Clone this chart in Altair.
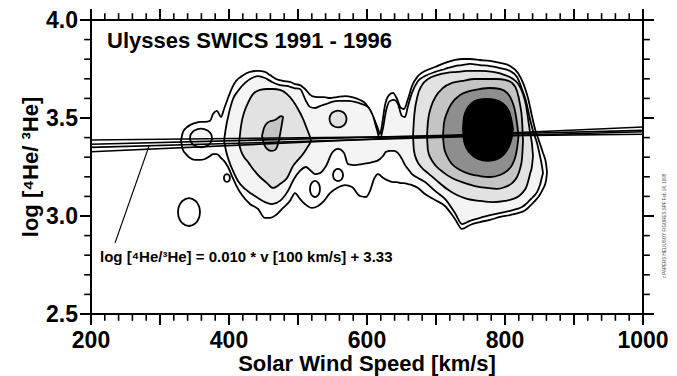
import altair as alt
import pandas as pd

FONT = "Liberation Sans"

# ---------------- axes ----------------
X_DOMAIN = [200, 1000]
Y_DOMAIN = [2.5, 4.0]
X_LABELS = [200, 400, 600, 800, 1000]
X_MAJOR = list(range(200, 1001, 100))
X_MINOR = [v for v in range(200, 1001, 20) if v % 100 != 0]
Y_MAJOR = [2.5, 3.0, 3.5, 4.0]
Y_MINOR = [2.6, 2.7, 2.8, 2.9, 3.1, 3.2, 3.3, 3.4, 3.6, 3.7, 3.8, 3.9]
X_TITLE = "Solar Wind Speed [km/s]"
Y_TITLE = "log [\u2074He/ \u00b3He]"

PLOT_W, PLOT_H = 552, 294
MAJOR_LEN, MINOR_LEN = 10, 6     # tick lengths in pixels

# ---------------- contour levels (fill inside each level) ----------------
LEVEL_FILLS = ["#ffffff", "#f4f4f4", "#e2e2e2", "#c4c4c4", "#8e8e8e", "#000000"]

# Each contour: speed samples, lower and upper log(4He/3He) bound
L1_MAIN_X = [330.4, 333.3, 337.7, 343.5, 350.7, 358.0, 365.2, 372.5, 376.8, 382.6, 388.4, 392.8, 398.6, 404.3,
             410.2, 418.8, 430.4, 442.0, 452.2, 459.4, 468.1, 478.3, 488.4, 495.7, 502.9, 510.1, 520.3, 529.0,
             537.7, 546.4, 556.5, 568.1, 578.3, 589.9, 598.6, 604.4, 610.2, 616.0, 618.8, 621.7, 626.1, 631.9,
             637.7, 643.5, 649.3, 653.6, 659.4, 665.2, 673.9, 684.1, 698.6, 713.0, 727.5, 737.7, 749.3, 763.8,
             778.3, 792.8, 807.2, 818.8, 827.5, 833.3, 839.1, 843.5, 849.3, 855.1, 859.4, 860.9]
L1_MAIN_HI = [3.383, 3.429, 3.449, 3.464, 3.474, 3.480, 3.480, 3.485, 3.520, 3.536, 3.505, 3.546, 3.602, 3.653,
              3.689, 3.714, 3.735, 3.740, 3.735, 3.719, 3.699, 3.689, 3.684, 3.673, 3.668, 3.648, 3.612, 3.607,
              3.607, 3.602, 3.607, 3.612, 3.607, 3.592, 3.571, 3.536, 3.495, 3.444, 3.418, 3.464, 3.566, 3.617,
              3.628, 3.597, 3.551, 3.546, 3.597, 3.663, 3.714, 3.740, 3.760, 3.781, 3.796, 3.801, 3.801, 3.796,
              3.791, 3.781, 3.765, 3.730, 3.668, 3.602, 3.510, 3.444, 3.383, 3.321, 3.270, 3.224]
L1_MAIN_LO = [3.383, 3.337, 3.316, 3.296, 3.286, 3.286, 3.291, 3.306, 3.316, 3.316, 3.296, 3.281, 3.250, 3.204,
              3.158, 3.107, 3.061, 3.036, 2.990, 2.990, 3.005, 3.041, 3.077, 3.117, 3.087, 3.061, 3.041, 3.051,
              3.077, 3.117, 3.143, 3.158, 3.148, 3.102, 3.097, 3.128, 3.189, 3.214, 3.209, 3.199, 3.189, 3.179,
              3.173, 3.173, 3.168, 3.168, 3.163, 3.158, 3.143, 3.112, 3.082, 3.051, 2.985, 2.934, 2.954, 2.969,
              2.980, 2.995, 3.005, 3.015, 3.026, 3.041, 3.061, 3.077, 3.102, 3.138, 3.179, 3.224]

L2_MAIN_X = [392.8, 395.7, 400.0, 405.8, 413.0, 423.2, 433.3, 442.0, 452.2, 462.3, 473.9, 485.5, 494.2, 502.9,
             511.6, 517.4, 524.6, 531.9, 540.6, 549.3, 558.0, 566.7, 572.5, 582.6, 592.8, 601.5, 608.7, 614.5,
             618.8, 623.2, 627.5, 633.3, 639.1, 644.9, 650.7, 655.1, 659.4, 665.2, 673.9, 684.1, 698.6, 713.0,
             727.5, 737.7, 749.3, 763.8, 778.3, 792.8, 807.2, 817.4, 824.6, 830.4, 836.2, 840.6, 846.4, 850.7,
             853.6, 855.1]
L2_MAIN_HI = [3.383, 3.454, 3.526, 3.597, 3.638, 3.679, 3.704, 3.714, 3.704, 3.684, 3.668, 3.663, 3.653, 3.648,
              3.587, 3.556, 3.551, 3.561, 3.571, 3.582, 3.587, 3.587, 3.587, 3.582, 3.571, 3.556, 3.510, 3.439,
              3.393, 3.449, 3.536, 3.587, 3.592, 3.571, 3.510, 3.505, 3.561, 3.628, 3.689, 3.714, 3.735, 3.750,
              3.765, 3.770, 3.776, 3.770, 3.765, 3.755, 3.740, 3.709, 3.648, 3.587, 3.495, 3.434, 3.372, 3.306,
              3.255, 3.219]
L2_MAIN_LO = [3.383, 3.332, 3.281, 3.230, 3.179, 3.138, 3.112, 3.092, 3.071, 3.061, 3.077, 3.128, 3.189, 3.230,
              3.250, 3.235, 3.214, 3.219, 3.255, 3.321, 3.342, 3.321, 3.265, 3.260, 3.265, 3.270, 3.276, 3.281,
              3.291, 3.306, 3.327, 3.332, 3.332, 3.321, 3.291, 3.260, 3.240, 3.214, 3.194, 3.173, 3.128, 3.087,
              3.015, 2.959, 2.975, 2.990, 3.005, 3.015, 3.026, 3.036, 3.046, 3.061, 3.082, 3.097, 3.122, 3.158,
              3.199, 3.219]

L3_MID_X = [414.5, 417.4, 421.7, 427.5, 434.8, 444.9, 455.1, 463.8, 473.9, 484.1, 492.8, 500.0, 507.3, 513.0,
            517.4, 518.8]
L3_MID_HI = [3.367, 3.459, 3.526, 3.577, 3.622, 3.643, 3.648, 3.648, 3.643, 3.622, 3.587, 3.546, 3.495, 3.444,
             3.403, 3.383]
L3_MID_LO = [3.367, 3.332, 3.301, 3.276, 3.240, 3.199, 3.168, 3.143, 3.163, 3.194, 3.255, 3.286, 3.316, 3.347,
             3.372, 3.383]

L4_MID_X = [447.8, 450.7, 455.1, 460.9, 466.7, 471.0, 475.4, 478.3]
L4_MID_HI = [3.408, 3.449, 3.474, 3.485, 3.490, 3.500, 3.510, 3.505]
L4_MID_LO = [3.408, 3.367, 3.342, 3.332, 3.337, 3.367, 3.444, 3.505]

L3_FAST_X = [666.7, 668.1, 672.5, 679.7, 688.4, 701.5, 715.9, 730.4, 744.9, 763.8, 782.6, 800.0, 811.6, 820.3,
             826.1, 830.4, 833.3, 836.2, 839.1, 840.6]
L3_FAST_HI = [3.408, 3.495, 3.602, 3.668, 3.699, 3.719, 3.730, 3.735, 3.740, 3.740, 3.735, 3.719, 3.699, 3.668,
              3.622, 3.566, 3.500, 3.429, 3.367, 3.306]
L3_FAST_LO = [3.408, 3.332, 3.281, 3.245, 3.219, 3.179, 3.138, 3.107, 3.087, 3.077, 3.071, 3.077, 3.087, 3.102,
              3.122, 3.143, 3.173, 3.214, 3.255, 3.306]

L4_FAST_X = [687.0, 688.4, 692.8, 700.0, 710.1, 723.2, 737.7, 756.5, 773.9, 788.4, 800.0, 810.2, 817.4, 821.7,
             824.6, 826.1]
L4_FAST_HI = [3.408, 3.485, 3.556, 3.612, 3.653, 3.679, 3.689, 3.699, 3.699, 3.699, 3.694, 3.679, 3.638, 3.571,
              3.495, 3.383]
L4_FAST_LO = [3.408, 3.332, 3.291, 3.255, 3.224, 3.194, 3.173, 3.153, 3.143, 3.138, 3.148, 3.168, 3.199, 3.240,
              3.291, 3.383]

L5_FAST_X = [710.1, 711.6, 715.9, 723.2, 734.8, 749.3, 763.8, 778.3, 792.8, 803.0, 810.2, 814.5, 817.4, 819.6]
L5_FAST_HI = [3.408, 3.474, 3.526, 3.577, 3.617, 3.638, 3.648, 3.653, 3.648, 3.628, 3.587, 3.536, 3.474, 3.408]
L5_FAST_LO = [3.408, 3.352, 3.306, 3.265, 3.235, 3.214, 3.204, 3.199, 3.209, 3.230, 3.260, 3.296, 3.342, 3.408]

L6_FAST_X = [739.1, 740.6, 744.9, 752.2, 760.9, 773.9, 785.5, 795.7, 803.0, 807.2, 810.2, 811.6]
L6_FAST_HI = [3.444, 3.505, 3.546, 3.577, 3.592, 3.597, 3.592, 3.577, 3.551, 3.520, 3.474, 3.444]
L6_FAST_LO = [3.444, 3.383, 3.342, 3.311, 3.291, 3.281, 3.286, 3.306, 3.337, 3.367, 3.408, 3.444]

# small closed islands: level, centre speed, centre log ratio, half-width, half-height
ISLAND_LEVEL = [1, 1, 1, 1, 2, 3]
ISLAND_CX = [342.0, 397.0, 558.0, 524.6, 359.4, 558.0]
ISLAND_CY = [3.020, 3.194, 3.209, 3.138, 3.398, 3.495]
ISLAND_RX = [15.9, 4.3, 7.2, 7.2, 15.9, 12.3]
ISLAND_RY = [0.071, 0.020, 0.031, 0.041, 0.048, 0.043]
ISLAND_PROFILE_U = [-1, -0.97, -0.87, -0.6, 0, 0.6, 0.87, 0.97, 1]
ISLAND_PROFILE_H = [0, 0.24, 0.49, 0.8, 1, 0.8, 0.49, 0.24, 0]

# regression line and its uncertainty envelope (values at 200 and 1000 km/s)
REG_V = [200, 1000]
REG_START = [3.35, 3.388, 3.366, 3.328]
REG_END = [3.43, 3.417, 3.437, 3.454]

POINTER_X = [234.8, 284.1]
POINTER_Y = [2.862, 3.357]

# ---------------- build tables ----------------
rows = []
def add_shape(name, level, xs, lo, hi):
    for x, a, b in zip(xs, lo, hi):
        rows.append(dict(shape=name, level=level, x=x, lo=a, hi=b))

add_shape("L1 main", 1, L1_MAIN_X, L1_MAIN_LO, L1_MAIN_HI)
add_shape("L2 main", 2, L2_MAIN_X, L2_MAIN_LO, L2_MAIN_HI)
add_shape("L3 mid", 3, L3_MID_X, L3_MID_LO, L3_MID_HI)
add_shape("L4 mid", 4, L4_MID_X, L4_MID_LO, L4_MID_HI)
add_shape("L3 fast", 3, L3_FAST_X, L3_FAST_LO, L3_FAST_HI)
add_shape("L4 fast", 4, L4_FAST_X, L4_FAST_LO, L4_FAST_HI)
add_shape("L5 fast", 5, L5_FAST_X, L5_FAST_LO, L5_FAST_HI)
add_shape("L6 fast", 6, L6_FAST_X, L6_FAST_LO, L6_FAST_HI)
for i, (lv, cx, cy, rx, ry) in enumerate(zip(ISLAND_LEVEL, ISLAND_CX, ISLAND_CY, ISLAND_RX, ISLAND_RY)):
    add_shape(f"island {i}", lv, [cx + rx * u for u in ISLAND_PROFILE_U],
              [cy - ry * h for h in ISLAND_PROFILE_H], [cy + ry * h for h in ISLAND_PROFILE_H])
contours = pd.DataFrame(rows)

reg = pd.DataFrame([dict(line=i, v=v, y=y)
                    for i, (s, e) in enumerate(zip(REG_START, REG_END))
                    for v, y in zip(REG_V, [s, e])])

# frame + ticks table (tick lengths converted from pixels to data units)
px_x = (X_DOMAIN[1] - X_DOMAIN[0]) / PLOT_W
px_y = (Y_DOMAIN[1] - Y_DOMAIN[0]) / PLOT_H
tick_rows = [
    dict(x1=X_DOMAIN[0], x2=X_DOMAIN[1], y1=Y_DOMAIN[0], y2=Y_DOMAIN[0], w=2.0),
    dict(x1=X_DOMAIN[0], x2=X_DOMAIN[1], y1=Y_DOMAIN[1], y2=Y_DOMAIN[1], w=2.0),
    dict(x1=X_DOMAIN[0], x2=X_DOMAIN[0], y1=Y_DOMAIN[0], y2=Y_DOMAIN[1], w=2.0),
    dict(x1=X_DOMAIN[1], x2=X_DOMAIN[1], y1=Y_DOMAIN[0], y2=Y_DOMAIN[1], w=2.0),
]
for vals, ln, w in [(X_MAJOR, MAJOR_LEN, 2.0), (X_MINOR, MINOR_LEN, 1.6)]:
    for v in vals:
        tick_rows.append(dict(x1=v, x2=v, y1=Y_DOMAIN[0], y2=Y_DOMAIN[0] - ln * px_y, w=w))
        tick_rows.append(dict(x1=v, x2=v, y1=Y_DOMAIN[1], y2=Y_DOMAIN[1] + ln * px_y, w=w))
for vals, ln, w in [(Y_MAJOR, MAJOR_LEN, 2.0), (Y_MINOR, MINOR_LEN, 1.6)]:
    for v in vals:
        tick_rows.append(dict(x1=X_DOMAIN[0], x2=X_DOMAIN[0] - ln * px_x, y1=v, y2=v, w=w))
        tick_rows.append(dict(x1=X_DOMAIN[1], x2=X_DOMAIN[1] + ln * px_x, y1=v, y2=v, w=w))
ticks = pd.DataFrame(tick_rows)

XS = alt.Scale(domain=X_DOMAIN, nice=False, zero=False)
YS = alt.Scale(domain=Y_DOMAIN, nice=False, zero=False)

layers = []
for lvl in range(1, 7):
    d = contours[contours.level == lvl]
    layers.append(
        alt.Chart(d).mark_area(fill=LEVEL_FILLS[lvl - 1], stroke="black", strokeWidth=1.8,
                               interpolate="monotone", opacity=1, strokeJoin="round")
        .encode(x=alt.X("x:Q", scale=XS, axis=None),
                y=alt.Y("lo:Q", scale=YS, axis=None, stack=None),
                y2="hi:Q",
                detail="shape:N")
    )

layers.append(
    alt.Chart(reg).mark_line(color="black", strokeWidth=1.6)
    .encode(x=alt.X("v:Q", scale=XS, axis=None), y=alt.Y("y:Q", scale=YS, axis=None), detail="line:N")
)
layers.append(
    alt.Chart(pd.DataFrame({"x1": [POINTER_X[0]], "x2": [POINTER_X[1]], "y1": [POINTER_Y[0]], "y2": [POINTER_Y[1]]}))
    .mark_rule(color="black", strokeWidth=1.1)
    .encode(x=alt.X("x1:Q", scale=XS, axis=None), x2="x2:Q",
            y=alt.Y("y1:Q", scale=YS, axis=None), y2="y2:Q")
)
layers.append(
    alt.Chart(ticks).mark_rule(color="black", strokeCap="square")
    .encode(x=alt.X("x1:Q", scale=XS, axis=None), x2="x2:Q",
            y=alt.Y("y1:Q", scale=YS, axis=None), y2="y2:Q",
            strokeWidth=alt.StrokeWidth("w:Q", scale=None, legend=None))
)
layers.append(
    alt.Chart(pd.DataFrame({"x": [223.2], "y": [3.857], "t": ["Ulysses SWICS 1991 - 1996"]}))
    .mark_text(align="left", baseline="alphabetic", font=FONT, fontSize=22, fontWeight="bold", color="black")
    .encode(x=alt.X("x:Q", scale=XS, axis=None), y=alt.Y("y:Q", scale=YS, axis=None), text="t:N")
)
layers.append(
    alt.Chart(pd.DataFrame({"x": [213.0], "y": [2.765], "t": ["log [\u2074He/\u00b3He] = 0.010 * v [100 km/s] + 3.33"]}))
    .mark_text(align="left", baseline="alphabetic", font=FONT, fontSize=15, fontWeight="bold", color="black")
    .encode(x=alt.X("x:Q", scale=XS, axis=None), y=alt.Y("y:Q", scale=YS, axis=None), text="t:N")
)
layers.append(
    alt.Chart(pd.DataFrame({"t": ["c PAPERS HELIUSOY FIGURES.SPF Feb 14, 1998"]}))
    .mark_text(angle=270, align="center", baseline="middle", font=FONT, fontSize=4.5, color="#555555")
    .encode(x=alt.value(574), y=alt.value(206), text="t:N")
)

# ---------------- tick labels and axis titles (as text marks) ----------------
x_lab = pd.DataFrame({"v": X_LABELS, "t": [str(v) for v in X_LABELS]})
y_lab = pd.DataFrame({"v": Y_MAJOR, "t": [f"{v:.1f}" for v in Y_MAJOR]})
layers += [
    alt.Chart(x_lab).mark_text(align="center", baseline="alphabetic", font=FONT, fontSize=23,
                               fontWeight="bold", color="black")
    .encode(x=alt.X("v:Q", scale=XS, axis=None), y=alt.value(328), text="t:N"),
    alt.Chart(y_lab).mark_text(align="right", baseline="alphabetic", dy=8, font=FONT, fontSize=23,
                               fontWeight="bold", color="black")
    .encode(y=alt.Y("v:Q", scale=YS, axis=None), x=alt.value(-13), text="t:N"),
    alt.Chart(pd.DataFrame({"t": [X_TITLE]})).mark_text(align="center", baseline="alphabetic", font=FONT,
                                                        fontSize=22, fontWeight="bold", color="black")
    .encode(x=alt.value(276), y=alt.value(351), text="t:N"),
    alt.Chart(pd.DataFrame({"t": [Y_TITLE]})).mark_text(align="center", baseline="alphabetic", angle=270,
                                                        font=FONT, fontSize=22, fontWeight="bold", color="black")
    .encode(x=alt.value(-53), y=alt.value(147), text="t:N"),
]

chart = (
    alt.layer(*layers)
    .properties(width=PLOT_W, height=PLOT_H,
                padding={"left": 83, "top": 12, "right": 26, "bottom": 62},
                autosize=alt.AutoSizeParams(type="none"))
    .configure_view(stroke=None)
    .configure(background="white")
)

chart.save("out.html", embed_options={"renderer": "svg", "actions": False})
